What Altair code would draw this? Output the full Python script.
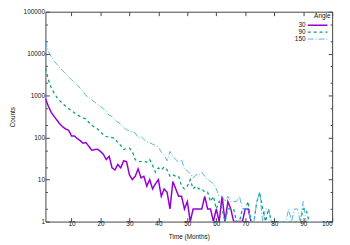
import altair as alt
import pandas as pd

angles = ["30", "90", "150"]
colors = ["#9400D3", "#009E73", "#56B4E9"]

months_30 = list(range(1, 73))
counts_30 = [850, 560, 400, 320, 260, 210, 180, 160, 150, 110,
             110, 95, 85, 74, 76, 62, 50, 52, 53, 47,
             40, 30, 36, 19, 17, 23, 19, 28, 27, 13,
             10, 12, 18, 11, 12, 7, 10, 6, 8, 10,
             4, 6, 5, 2, 9, 6, 4, 4, 2, 3,
             1, 2, 2, 2, 2, 4, 2, 2, 1, 2,
             1, 4, 1, 3, 2, 1, 1, 1, 1, 2,
             2, 1]

months_90 = list(range(1, 93))
counts_90 = [4500, 2400, 1550, 1150, 900, 750, 640, 560, 490, 440,
             390, 350, 320, 295, 280, 230, 200, 175, 160, 140,
             115, 105, 105, 100, 97, 75, 65, 52, 55, 56,
             47, 30, 27, 27, 27, 26, 30, 22, 15, 19,
             17, 20, 17, 12, 13, 12, 12, 7, 6, 7,
             10, 6, 7, 6, 6, 5, 5, 3, 4, 2,
             3, 2, 1, 2, 2, 2, 1, 1, 2, 2,
             3, 1, 1, 3, 5, 2, 1, 2, 1, 1,
             1, 1, 1, 1, 1, 1, 1, 1, 1, 2,
             2, 1]

months_150 = list(range(1, 92))
counts_150 = [20000, 11500, 8500, 6800, 5500, 4600, 3900, 3300, 2800, 2400,
              2100, 1800, 1500, 1250, 1000, 900, 790, 700, 620, 550,
              490, 420, 340, 320, 260, 235, 210, 175, 155, 145,
              138, 130, 100, 107, 90, 80, 76, 70, 65, 60,
              45, 38, 28, 47, 36, 30, 26, 30, 18, 16,
              14, 11, 13, 13, 15, 12, 10, 9, 8, 6,
              4, 4, 3, 4, 3, 3, 3, 4, 2, 2,
              2, 1, 1, 3, 5, 1, 2, 2, 1, 1,
              1, 1, 1, 1, 2, 1, 2, 2, 1, 3,
              1]

x_ticks = [10, 20, 30, 40, 50, 60, 70, 80, 90, 100]
y_ticks = [1, 2, 5, 10, 20, 50, 100, 200, 500, 1000, 2000, 5000,
           10000, 20000, 50000, 100000]

rows = []
for a, ms, cs in [("30", months_30, counts_30),
                  ("90", months_90, counts_90),
                  ("150", months_150, counts_150)]:
    for m, c in zip(ms, cs):
        rows.append({"t": m, "count": c, "angle": a})
df = pd.DataFrame(rows)

FONT = "Liberation Sans"
AX = "#444444"
TXT = "#111111"
major_test = "indexof([1,10,100,1000,10000,100000], datum.value) >= 0"

x_scale = alt.Scale(domain=[1, 100], nice=False, zero=False)
y_scale = alt.Scale(type="log", domain=[1, 100000], nice=False)

common_axis = dict(domain=False, grid=False, tickColor=AX, tickWidth=1,
                   labelFont=FONT, labelFontSize=6.5, labelColor=TXT,
                   titleFont=FONT, titleFontSize=6.5, titleFontWeight="normal",
                   titleColor=TXT)

y_tick_size = {"condition": {"test": major_test, "value": -4}, "value": -2}

lines = alt.Chart(df).mark_line(clip=True).encode(
    x=alt.X("t:Q", scale=x_scale,
            axis=alt.Axis(orient="bottom", values=x_ticks, title="Time (Months)",
                          tickSize=alt.ExprRef("-4"), labelPadding=3,
                          titleY=15, titleBaseline="middle", zindex=1,
                          **common_axis)),
    y=alt.Y("count:Q", scale=y_scale,
            axis=alt.Axis(orient="left", values=y_ticks, title="Counts",
                          tickSize=y_tick_size, labelPadding=5,
                          labelExpr=major_test + " ? format(datum.value, 'd') : ''",
                          titleX=-33, titleY=106.5, titleAngle=270,
                          titleAlign="center", titleBaseline="middle", zindex=1,
                          **common_axis)),
    color=alt.Color("angle:N", scale=alt.Scale(domain=angles, range=colors),
                    sort=angles,
                    legend=alt.Legend(title="Angle", orient="none", legendX=273, legendY=1,
                                      symbolType="M-5,0H5", symbolSize=16,
                                      symbolStrokeWidth=1.2,
                                      rowPadding=alt.ExprRef("-1"),
                                      labelAlign="right", labelOffset=alt.ExprRef("-15.5"),
                                      titleFont=FONT, titleFontSize=6.5,
                                      titleFontWeight="normal", titleAnchor="middle",
                                      titlePadding=3,
                                      labelFont=FONT, labelFontSize=6.5,
                                      labelColor=TXT, titleColor=TXT)),
    strokeDash=alt.StrokeDash("angle:N", sort=angles,
                              scale=alt.Scale(domain=angles,
                                              range=[[1, 0], [3, 3], [6, 2, 1, 2]]),
                              legend=alt.Legend(title="Angle")),
    strokeWidth=alt.StrokeWidth("angle:N",
                                scale=alt.Scale(domain=angles, range=[1.5, 1, 1]),
                                legend=None),
    order=alt.Order("t:Q"),
)

ghost = alt.Chart(df).mark_line(opacity=0).encode(
    x=alt.X("t:Q", scale=x_scale,
            axis=alt.Axis(orient="top", values=x_ticks, title="", labels=False,
                          tickSize=alt.ExprRef("-4"), zindex=1, **common_axis)),
    y=alt.Y("count:Q", scale=y_scale,
            axis=alt.Axis(orient="right", values=y_ticks, title="", labels=False,
                          tickSize=y_tick_size, zindex=1, **common_axis)),
    detail="angle:N",
)

chart = alt.layer(lines, ghost).resolve_axis(
    x="independent", y="independent"
).properties(
    width=291, height=213,
    padding={"left": 38, "top": 2, "right": 10, "bottom": 22},
    autosize=alt.AutoSizeParams(type="none"),
).configure_view(stroke=AX, strokeWidth=1)

chart.save("out.html", embed_options={"renderer": "svg", "actions": False})
